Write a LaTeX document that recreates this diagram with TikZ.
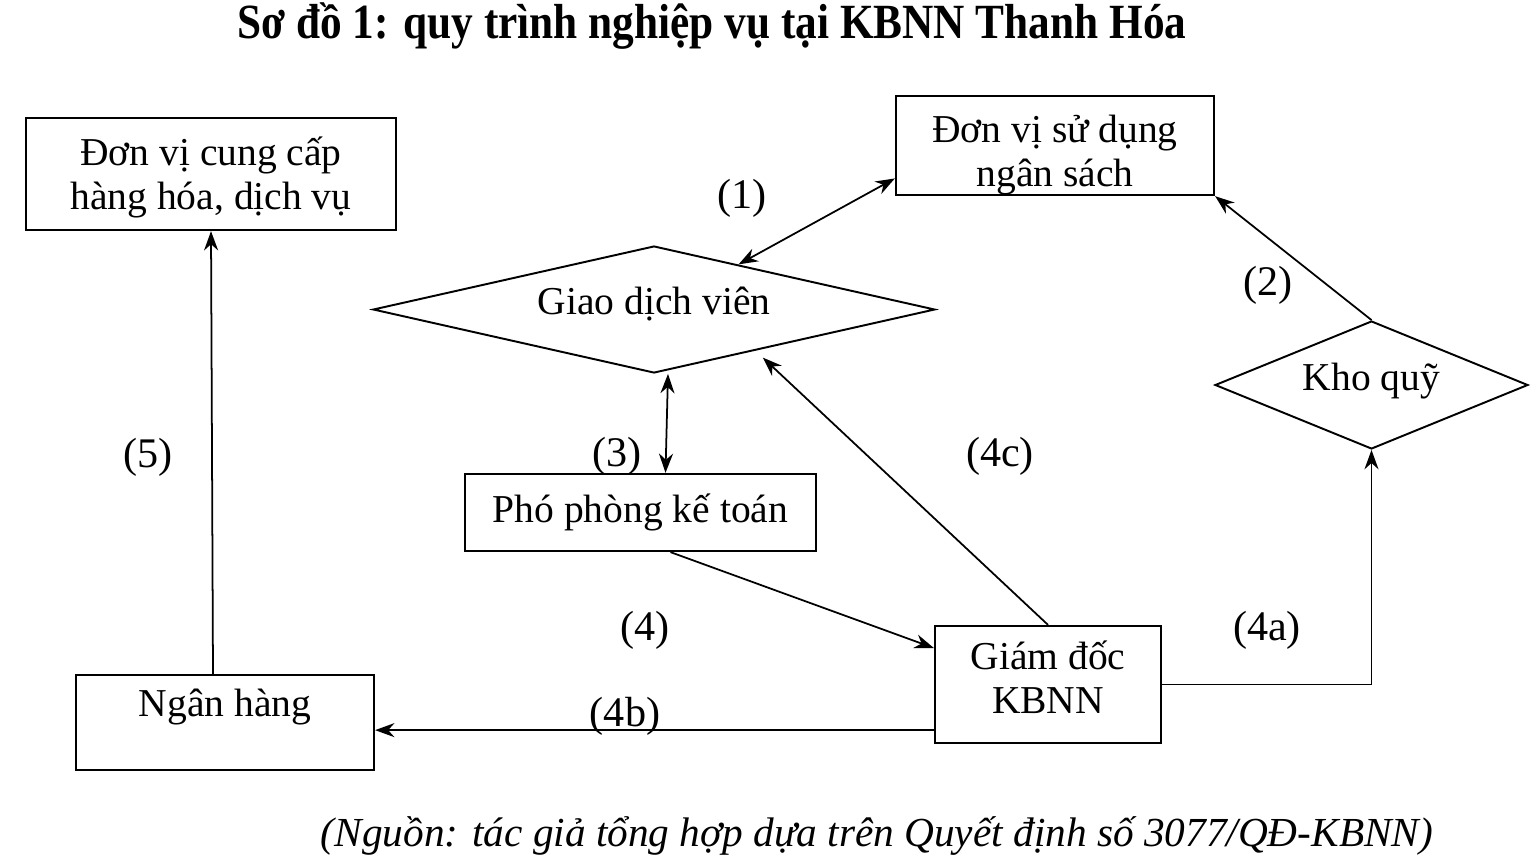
\documentclass[tikz,border=0pt]{standalone}
\usepackage{fontspec}
\setmainfont{Liberation Serif}
\newfontfamily\titlefont[FakeStretch=0.88]{Liberation Serif}
\usetikzlibrary{shapes.geometric, arrows.meta, calc}

\begin{document}
\begin{tikzpicture}[x=0.02cm, y=-0.02cm,
    box/.style={draw, line width=1.3pt, rectangle, align=center, font=\fontsize{22.5}{25}\selectfont},
    choice/.style={draw, line width=1.1pt, diamond, align=center, inner sep=0pt, text height=0.6cm, text depth=0.4cm, font=\fontsize{22.5}{25}\selectfont},
    flow/.style={-{Stealth[length=11pt,width=8pt]}, line width=1pt},
    both/.style={{Stealth[length=11pt,width=8pt]}-{Stealth[length=11pt,width=8pt]}, line width=1pt},
    num/.style={font=\fontsize{24}{28}\selectfont}]
    \useasboundingbox (0,0) rectangle (1536,860);
    \node[font=\titlefont\bfseries\fontsize{28}{32}\selectfont](title) at (712,26) {Sơ đồ 1: quy trình nghiệp vụ tại KBNN Thanh Hóa};
    \node[box, minimum width=7.4cm, inner sep=0pt, text height=1.82cm, text depth=0.42cm](cungcap) at (211,174) {Đơn vị cung cấp\\hàng hóa, dịch vụ};
    \node[box, minimum width=6.36cm, inner sep=0pt, text height=1.8cm, text depth=0.18cm](sudung) at (1055,145.5) {Đơn vị sử dụng\\ngân sách};
    \node[choice, minimum width=11.24cm, minimum height=2.54cm, aspect=4.43](gdv) at (654,309.5) {Giao dịch viên};
    \node[choice, minimum width=6.26cm, minimum height=2.56cm, aspect=2.45](kho) at (1371.5,385) {Kho quỹ};
    \node[box, minimum width=7.02cm, minimum height=1.54cm](pp) at (640.5,512.5) {Phó phòng kế toán};
    \node[box, minimum width=4.52cm, inner sep=0pt, text height=1.74cm, text depth=0.6cm](gd) at (1048,684.5) {Giám đốc\\KBNN};
    \node[box, minimum width=5.96cm, inner sep=0pt, text height=0.82cm, text depth=1.08cm](nh) at (225,722.5) {Ngân hàng};
    \node[font=\itshape\fontsize{23.5}{28}\selectfont](nguon) at (877,836) {(Nguồn: tác giả tổng hợp dựa trên Quyết định số 3077/QĐ-KBNN)};

    \node[num](l1)  at (742,198)  {(1)};
    \node[num](l2)  at (1268,285) {(2)};
    \node[num](l3)  at (617,456)  {(3)};
    \node[num](l4)  at (645,630)  {(4)};
    \node[num](l4c) at (1000,456) {(4c)};
    \node[num](l4a) at (1267,630) {(4a)};
    \node[num](l4b) at (625,716)  {(4b)};
    \node[num](l5)  at (148,457)  {(5)};

    \coordinate (gdleft) at ([yshift=0.28cm]gd.south west);
    \draw[both] ($(gdv.north)!0.3!(gdv.east)$) -- ($(sudung.west)!0.65!(sudung.south west)$);
    \draw[flow] (kho.north) -- (sudung.south east);
    \draw[both] ([xshift=0.28cm]gdv.south) -- ([xshift=0.5cm]pp.north);
    \draw[flow] ([xshift=0.6cm]pp.south) -- ([yshift=0.73cm]gd.west);
    \draw[flow, shorten >=0.2cm] (gd.north) -- ($(gdv.south)!0.36!(gdv.east)$);
    \draw[flow] (gd.east) -| (kho.south);
    \draw[flow] (gdleft) -- (gdleft -| nh.east);
    \draw[flow] ([xshift=-0.24cm]nh.north) -- (cungcap.south);
\end{tikzpicture}
\end{document}
